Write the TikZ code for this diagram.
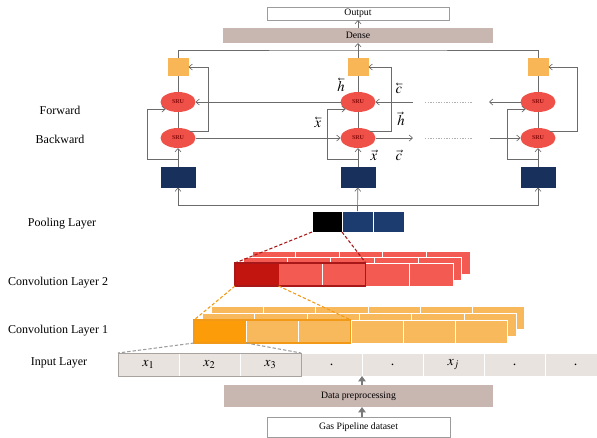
\documentclass[tikz,border=0pt]{standalone}
\usepackage{mathptmx}
\usepackage{fontspec}
\setmainfont{Liberation Serif}
\usetikzlibrary{arrows.meta,shapes.geometric,calc}

\definecolor{linegray}{HTML}{6B6B6B}
\definecolor{srured}{HTML}{EF5148}
\definecolor{srutext}{HTML}{8A0A0A}
\definecolor{gateorange}{HTML}{F8B656}
\definecolor{navy}{HTML}{17305C}
\definecolor{convred}{HTML}{F25A52}
\definecolor{convdark}{HTML}{C21510}
\definecolor{convedge}{HTML}{A81818}
\definecolor{orangecell}{HTML}{F8B95C}
\definecolor{orangedark}{HTML}{FB9C08}
\definecolor{orangeedge}{HTML}{F29A18}
\definecolor{inputfill}{HTML}{E9E3E0}
\definecolor{inputedge}{HTML}{A9A3A0}
\definecolor{densefill}{HTML}{C8B6B1}
\definecolor{boxgray}{HTML}{9C9C9C}
\definecolor{poolnavy}{HTML}{1C3B6E}
\definecolor{dotgray}{HTML}{B0B0B0}
\definecolor{pathgray}{HTML}{7A7A7A}

% left-pointing vector accent
\newcommand{\lvec}[1]{\reflectbox{$\vec{\reflectbox{$#1$}}$}}

\tikzset{
  ln/.style={draw=linegray, line width=0.5pt},
  arr/.style={ln, -{Straight Barb[length=2.5pt,width=4.5pt]}},
  sz/.style 2 args={minimum width=#1*0.75pt, minimum height=#2*0.75pt, inner sep=0pt, outer sep=0pt},
  srunode/.style={ellipse, fill=srured, sz={35}{20}, font=\fontsize{4.5}{5}\selectfont\bfseries, text=srutext},
  gatebox/.style={rectangle, fill=gateorange, sz={21}{18}},
  navybox/.style={rectangle, fill=navy, sz={35}{21}},
  sidelabel/.style={font=\fontsize{9}{11}\selectfont},
  toplabel/.style={font=\fontsize{7.3}{8}\selectfont},
  veclabel/.style={font=\fontsize{11}{13}\selectfont, inner sep=0pt},
  dotline/.style={draw=dotgray, line width=0.5pt, dash pattern=on 1pt off 1pt},
  poolcell/.style={rectangle, draw=white, line width=0.5pt, anchor=north west},
  incell/.style={rectangle, fill=inputfill, draw=white, line width=0.5pt, sz={61}{23}, anchor=north west, font=\fontsize{10.5}{12}\selectfont},
  thickarr/.style={draw=pathgray, line width=1.8pt, -{Triangle[length=4pt,width=5.5pt]}},
}

\begin{document}
\begin{tikzpicture}[x=0.75pt,y=-0.75pt]
\useasboundingbox (0,0) rectangle (597,437);

% ---------- output stage ----------
\node[rectangle, draw=boxgray, fill=white, sz={182}{13}, toplabel] (out) at (358,13.5) {Output};
\node[rectangle, fill=densefill, sz={270}{15}, toplabel] (dense) at (358,35.5) {Dense};
\draw[arr] (dense) -- (out);

% ---------- bidirectional SRU columns ----------
\foreach \c/\x/\dx in {1/178/19.5, 2/358/22.5, 3/538/28.5}{
  \node[gatebox] (o\c) at (\x,67) {};
  \node[srunode] (f\c) at (\x,102) {SRU};
  \node[srunode] (b\c) at (\x,138) {SRU};
  \node[navybox] (n\c) at (\x,177) {};
  \draw[ln] (f\c) -- (o\c);
  \draw[ln] (b\c) -- (f\c);
  \draw[arr] (n\c) -- (b\c);
  \draw[arr] ($(n\c.north)+(0,-7)$) -- ++(-31,0) |- (f\c.210);
  \draw[arr] (b\c.30) -| ($(o\c.east)+(\dx,0)$) -- (o\c.east);
}

% bus into the dense layer
\coordinate (bus) at (358,50);
\draw[ln] (o1.north) |- (bus) -| (o3.north);
\draw[ln] (o2.north) -- (bus);
\draw[arr] (bus) -- (dense);

% forward row (right to left)
\coordinate (fr) at (413,102);
\coordinate (fl) at (489,102);
\coordinate (fda) at (425,102);
\coordinate (fdb) at (473,102);
\draw[arr] (f2) -- (f1);
\draw[arr] (fr) -- (f2);
\draw[arr] (f3) -- (fl);
\draw[dotline] (fda) -- (fdb);

% backward row (left to right)
\coordinate (br) at (413,138);
\coordinate (bl) at (490,138);
\coordinate (bda) at (425,138);
\coordinate (bdb) at (473,138);
\draw[arr] (b1) -- (b2);
\draw[arr] (b2) -- (br);
\draw[arr] (bl) -- (b3);
\draw[dotline] (bda) -- (bdb);

% state labels
\node[veclabel] (lh) at (341,85) {$\lvec{h}$};
\node[veclabel] (lc) at (399,88) {$\lvec{c}$};
\node[veclabel] (lx) at (318,122) {$\lvec{x}$};
\node[veclabel] (rh) at (401,119) {$\vec{h}$};
\node[veclabel] (rx) at (374,155) {$\vec{x}$};
\node[veclabel] (rc) at (399,155) {$\vec{c}$};

% ---------- pooling layer ----------
\node[poolcell, fill=black, sz={30}{21}] (pblack) at (312,211) {};
\node[poolcell, fill=poolnavy, sz={31}{21}] (pnavy1) at (342,211) {};
\node[poolcell, fill=poolnavy, sz={31}{21}] (pnavy2) at (373,211) {};
\coordinate (pbus) at ($(pnavy1.north)+(0,-6)$);
\draw[arr] (pnavy1.north) -- (n2);
\draw[arr] (pbus) -| (n1.south);
\draw[arr] (pbus) -| (n3.south);

% ---------- convolution layer 2 ----------
\foreach \k in {2,1,0}{
  \foreach \i in {0,...,4}{
    \filldraw[fill=convred, draw=white, line width=0.6pt]
      ({235+8.5*\k+43.6*\i},{263-6*\k}) rectangle ++(43.6,23);
  }
}
\node[rectangle, fill=convdark, sz={43.6}{23}, anchor=north west] (c2dark) at (235,263) {};
\node[rectangle, draw=convedge, line width=0.8pt, sz={130.8}{23}, anchor=north west] (c2win) at (235,263) {};

% ---------- convolution layer 1 ----------
\foreach \k in {2,1,0}{
  \foreach \i in {0,...,5}{
    \filldraw[fill=orangecell, draw=white, line width=0.6pt]
      ({194+8.5*\k+52.3*\i},{320-7*\k}) rectangle ++(52.3,23);
  }
}
\node[rectangle, fill=orangedark, sz={52.3}{23}, anchor=north west] (c1dark) at (194,320) {};
\node[rectangle, draw=orangeedge, line width=0.8pt, sz={156.9}{23}, anchor=north west] (c1win) at (194,320) {};

% ---------- input layer ----------
\foreach \i/\t in {1/$x_1$, 2/$x_2$, 3/$x_3$, 4/., 5/., 6/$x_j$, 7/., 8/.}{
  \node[incell] (in\i) at ({118+61*(\i-1)},353) {\t};
}
\node[rectangle, draw=inputedge, line width=0.7pt, sz={183}{23}, anchor=north west] (inwin) at (118,353) {};

% receptive-field guides
\draw[convedge, line width=0.8pt, dash pattern=on 2.5pt off 1.5pt] (pblack.south west) -- (c2win.north west);
\draw[convedge, line width=0.8pt, dash pattern=on 2.5pt off 1.5pt] (pblack.south east) -- (c2win.north east);
\draw[orangeedge, line width=0.8pt, dash pattern=on 2.5pt off 1.5pt] (c2dark.south west) -- (c1win.north west);
\draw[orangeedge, line width=0.8pt, dash pattern=on 2.5pt off 1.5pt] (c2dark.south east) -- (c1win.north east);
\draw[boxgray, line width=0.8pt, dash pattern=on 2.5pt off 1.5pt] (c1dark.south west) -- (inwin.north west);
\draw[boxgray, line width=0.8pt, dash pattern=on 2.5pt off 1.5pt] (c1dark.south east) -- (inwin.north east);

% ---------- data path ----------
\node[rectangle, fill=densefill, sz={269}{22}, toplabel] (dp) at (358.5,396) {Data preprocessing};
\node[rectangle, draw=boxgray, fill=white, sz={183}{20}, toplabel] (gas) at (358.5,427) {Gas Pipeline dataset};
\draw[thickarr] (dp.north -| in4.south east) -- (in4.south east);
\draw[thickarr] (gas.north -| in4.south east) -- (dp.south -| in4.south east);

% ---------- side labels ----------
\node[sidelabel] (lforward) at (60,110) {Forward};
\node[sidelabel] (lbackward) at (60,139) {Backward};
\node[sidelabel] (lpool) at (62,224) {Pooling Layer};
\node[sidelabel] (lconv2) at (58,283) {Convolution Layer 2};
\node[sidelabel] (lconv1) at (58,331) {Convolution Layer 1};
\node[sidelabel] (linput) at (59,363) {Input Layer};
\end{tikzpicture}
\end{document}
